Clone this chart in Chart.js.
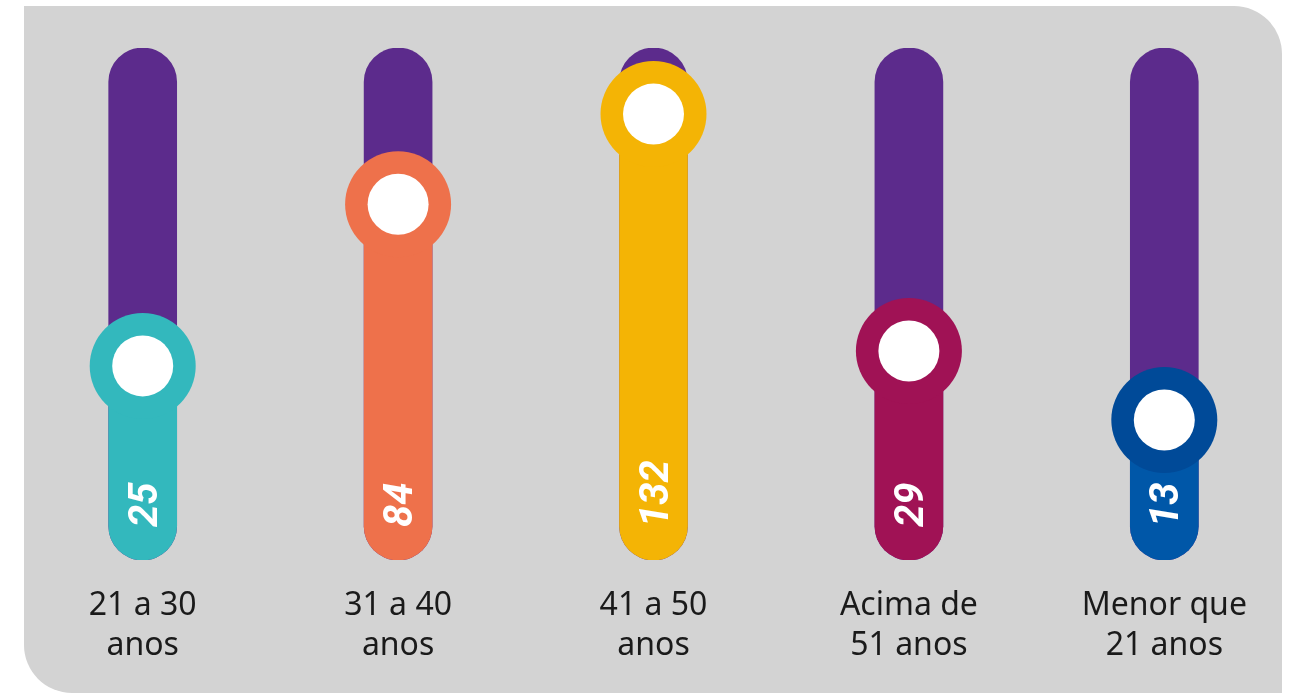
<!DOCTYPE html>
<html lang="pt">
<head>
<meta charset="utf-8">
<title>Faixa etária</title>
<script src="https://cdn.jsdelivr.net/npm/chart.js@4/dist/chart.umd.min.js"></script>
<style>
    body { margin: 0; background: #ffffff; }
    .fundo {
        position: absolute; left: 24px; top: 6px; width: 1258px; height: 687px;
        background: #d3d3d3; border-radius: 0 48px 0 48px;
    }
    .caixa { position: absolute; left: 0; top: 0; width: 1292px; height: 693px; }
</style>
</head>
<body>
<div class="fundo"></div>
<div class="caixa"><canvas id="graficoIdade"></canvas></div>
<script>
// DADOS (ordem igual à da imagem)
const categorias = [['21 a 30', 'anos'], ['31 a 40', 'anos'], ['41 a 50', 'anos'], ['Acima de', '51 anos'], ['Menor que', '21 anos']];
const valores = [25, 84, 132, 29, 13];
const valorMaximo = 174; // topo do "trilho" roxo

const corTrilho = '#5c2b8c';
const coresBarra = ['#33b8bd', '#ee714b', '#f4b405', '#a01255', '#0057a8'];
const coresBotao = ['#33b8bd', '#ee714b', '#f4b405', '#a01255', '#004a98'];

// Escala de raiz quadrada (o infográfico não é linear)
class EscalaRaiz extends Chart.LinearScale {
    getPixelForValue(v) {
        const a = Math.sqrt(Math.max(this.min, 0)), b = Math.sqrt(this.max);
        return this.getPixelForDecimal((Math.sqrt(Math.max(v, 0)) - a) / (b - a));
    }
    getValueForPixel(p) {
        const a = Math.sqrt(Math.max(this.min, 0)), b = Math.sqrt(this.max);
        const s = a + this.getDecimalForPixel(p) * (b - a);
        return s * s;
    }
}
EscalaRaiz.id = 'raiz';
Chart.register(EscalaRaiz);

// Números brancos rodados na base de cada barra
const rotulosValor = {
    id: 'rotulosValor',
    afterDatasetsDraw(chart) {
        const { ctx, scales: { x, y } } = chart;
        ctx.save();
        ctx.fillStyle = '#ffffff';
        ctx.font = 'italic bold 40px Roboto';
        ctx.textAlign = 'left';
        ctx.textBaseline = 'alphabetic';
        valores.forEach((v, i) => {
            ctx.save();
            ctx.translate(x.getPixelForValue(i), y.getPixelForValue(0) - 33);
            ctx.rotate(-Math.PI / 2);
            ctx.fillText(String(v), 0, 14);
            ctx.restore();
        });
        ctx.restore();
    }
};

new Chart(document.getElementById('graficoIdade'), {
    data: {
        labels: categorias,
        datasets: [
            {
                type: 'bar', data: valores.map(() => valorMaximo),
                backgroundColor: corTrilho, borderRadius: 34, borderSkipped: false,
                grouped: false, barThickness: 68, order: 4
            },
            {
                type: 'bar', data: valores,
                backgroundColor: coresBarra,
                borderRadius: { topLeft: 0, topRight: 0, bottomLeft: 34, bottomRight: 34 }, borderSkipped: false,
                grouped: false, barThickness: 68, order: 3
            },
            {
                type: 'line', data: valores, showLine: false, clip: false,
                pointRadius: 53, pointHoverRadius: 53, pointBorderWidth: 0,
                pointBackgroundColor: coresBotao, order: 2
            },
            {
                type: 'line', data: valores, showLine: false, clip: false,
                pointRadius: 30.5, pointHoverRadius: 30.5, pointBorderWidth: 0,
                pointBackgroundColor: '#ffffff', order: 1
            }
        ]
    },
    options: {
        responsive: true,
        maintainAspectRatio: false,
        animation: false,
        events: [],
        layout: { autoPadding: false, padding: { left: 15, right: 0, top: 48, bottom: 1 } },
        plugins: { legend: { display: false }, tooltip: { enabled: false } },
        scales: {
            x: {
                type: 'category', offset: true,
                grid: { display: false, drawTicks: false }, border: { display: false },
                ticks: { color: '#1a1a1a', padding: 26, maxRotation: 0, font: { family: 'Noto Sans', size: 32, lineHeight: '40px' } },
                // sem margem extra para os rótulos das pontas
                afterFit: (escala) => { escala.paddingLeft = 0; escala.paddingRight = 0; }
            },
            y: { type: 'raiz', min: 0, max: valorMaximo, display: false }
        }
    },
    plugins: [rotulosValor]
});
</script>
</body>
</html>
